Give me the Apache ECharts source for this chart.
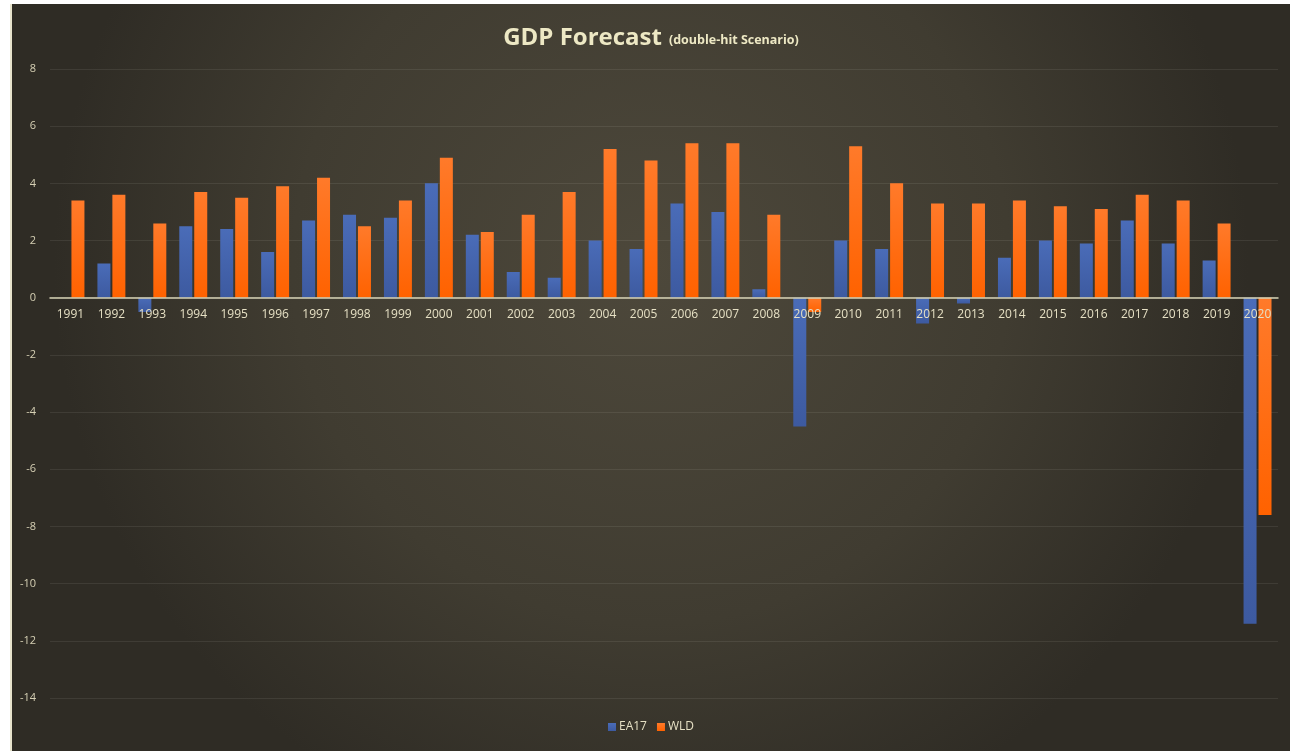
<!DOCTYPE html>
<html>
<head>
<meta charset="utf-8">
<script src="https://cdn.jsdelivr.net/npm/echarts@6/dist/echarts.min.js"></script>
<style>
html,body{margin:0;padding:0;background:#ffffff;width:1295px;height:751px;overflow:hidden;}
#chart{position:absolute;left:10px;top:4px;width:1280px;height:747px;border-left:2px solid #e8e4cc;box-sizing:border-box;}
</style>
</head>
<body>
<div id="chart"></div>
<script>
const years = ['1991','1992','1993','1994','1995','1996','1997','1998','1999','2000','2001','2002','2003','2004','2005','2006','2007','2008','2009','2010','2011','2012','2013','2014','2015','2016','2017','2018','2019','2020'];
const ea17 = [null,1.2,-0.5,2.5,2.4,1.6,2.7,2.9,2.8,4.0,2.2,0.9,0.7,2.0,1.7,3.3,3.0,0.3,-4.5,2.0,1.7,-0.9,-0.2,1.4,2.0,1.9,2.7,1.9,1.3,-11.4];
const wld = [3.4,3.6,2.6,3.7,3.5,3.9,4.2,2.5,3.4,4.9,2.3,2.9,3.7,5.2,4.8,5.4,5.4,2.9,-0.5,5.3,4.0,3.3,3.3,3.4,3.2,3.1,3.6,3.4,2.6,-7.6];
const yTicks = {min:-14, max:8, interval:2};

const el = document.getElementById('chart');
const gridTop = 65, gridBottom = 53;
const gridH = el.clientHeight - gridTop - gridBottom;
const zeroOffset = -gridH * (0 - yTicks.min) / (yTicks.max - yTicks.min);

const chart = echarts.init(el);
chart.setOption({
  backgroundColor: {
    type:'radial', x:0.5, y:0.35, r:0.8,
    colorStops:[{offset:0,color:'#4d483b'},{offset:0.6,color:'#403c31'},{offset:1,color:'#2f2c25'}]
  },
  title: {
    text: '{a|GDP Forecast} {b|(double-hit Scenario)}',
    left: 'center', top: 17,
    textStyle: {
      rich: {
        a: {fontFamily:'Open Sans', fontWeight:'bold', fontSize:24, color:'#ede8c4'},
        b: {fontFamily:'Open Sans', fontWeight:'bold', fontSize:12.5, color:'#ede8c4', padding:[5,0,0,2]}
      }
    }
  },
  legend: {
    bottom: 13, left:'center',
    itemWidth: 8, itemHeight: 8, itemGap: 10,
    icon: 'rect',
    textStyle: {color:'#e6e0c4', fontSize:12, fontFamily:'Open Sans', padding:[0,0,0,-2]},
    data: ['EA17','WLD']
  },
  grid: {left:38, right:12, top:gridTop, bottom:gridBottom, containLabel:false},
  xAxis: {
    type:'category', data: years,
    offset: zeroOffset,
    axisLine: {onZero:false, lineStyle:{color:'#d8d3b6', width:1.5}},
    axisTick: {show:false},
    axisLabel: {color:'#e6e0c4', fontSize:12, fontFamily:'Open Sans', margin:11},
    z: 5
  },
  yAxis: {
    type:'value', min:yTicks.min, max:yTicks.max, interval:yTicks.interval,
    axisLine:{show:false}, axisTick:{show:false},
    axisLabel:{color:'#d6d0b4', fontSize:11, fontFamily:'Open Sans', margin:14},
    splitLine:{lineStyle:{color:'rgba(255,255,240,0.08)', width:1}}
  },
  series: [
    {
      name:'EA17', type:'bar', data: ea17,
      barWidth: 13, barGap:'15%',
      itemStyle: {color: {type:'linear',x:0,y:0,x2:0,y2:1,colorStops:[{offset:0,color:'#4a6cb8'},{offset:1,color:'#3d5aa0'}]}}
    },
    {
      name:'WLD', type:'bar', data: wld,
      barWidth: 13, barGap:'15%',
      itemStyle: {color: {type:'linear',x:0,y:0,x2:0,y2:1,colorStops:[{offset:0,color:'#ff7a2a'},{offset:1,color:'#ff6200'}]}}
    }
  ]
});
</script>
</body>
</html>
